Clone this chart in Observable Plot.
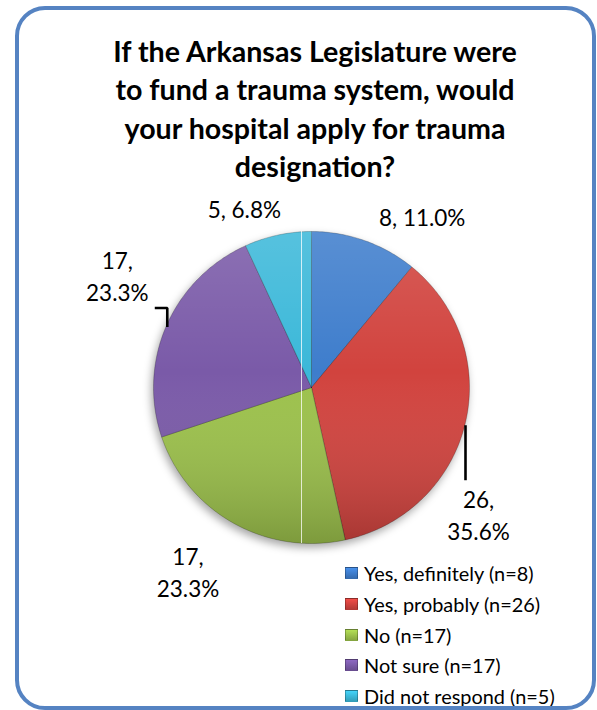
<!DOCTYPE html>
<html>
<head>
<meta charset="utf-8">
<script src="https://cdn.jsdelivr.net/npm/d3@7"></script>
<script src="https://cdn.jsdelivr.net/npm/@observablehq/plot@0.6"></script>
<style>
  body { margin: 0; background: #fff; font-family: Lato, "Open Sans", sans-serif; }
  #frame { position: relative; width: 597px; height: 710px; overflow: hidden; background: #fff; }
  #border { position: absolute; left: 15px; top: 6px; width: 581px; height: 704px; box-sizing: border-box;
            border: 4.5px solid #5583C2; border-radius: 30px; pointer-events: none; }
  #title { position: absolute; left: 15px; width: 600px; top: 32px; text-align: center; white-space: pre-line;
           font-weight: bold; font-size: 28.6px; line-height: 38.3px; color: #000; }
  #chart { position: absolute; left: 0; top: 185px; }
  #legend { position: absolute; left: 345px; top: 558px; font-size: 19.9px; color: #000; }
  .row { height: 30.7px; display: flex; align-items: center; white-space: nowrap; }
  .sw { width: 13px; height: 12px; margin-right: 6px; box-sizing: border-box; border: 1px solid rgba(0,0,0,0.25); flex: none; }
</style>
</head>
<body>
<div id="frame">
  <div id="title"></div>
  <div id="chart"></div>
  <div id="legend"></div>
  <div id="border"></div>
</div>
<script>
// Survey answers, counts and colours
const titleLines = [
  "If the Arkansas Legislature were",
  "to fund a trauma system, would",
  "your hospital apply for trauma",
  "designation?"
];
const categories = ["Yes, definitely", "Yes, probably", "No", "Not sure", "Did not respond"];
const counts = [8, 26, 17, 17, 5];
const colors = ["#3E7DCC", "#D1433E", "#9CC14B", "#7A5AA8", "#3BB8D9"];

// Label placement: pixel nudges from a point just outside each slice, and whether to wrap
const labelLayout = [
  { dx: 44, dy: 12, wrap: false },
  { dx: -25, dy: 81, wrap: true },
  { dx: -26, dy: 14, wrap: true },
  { dx: -13, dy: -35, wrap: true },
  { dx: -25, dy: 11, wrap: false }
];
// Leader lines, in pixels relative to their label
const leaderLayout = [
  { slice: 1, pts: [[-13, -89], [-13, -34]] },
  { slice: 3, pts: [[37.5, 33], [50, 33], [50, 52]] }
];

const RX = 158, RY = 156;           // pie radius in pixels (x, y)
const LABEL_R = 1.25;               // radial distance of label anchors
const SPLIT_X = -10 / RX;           // thin light split line across the pie

document.getElementById("title").textContent = titleLines.join("\n");

const total = d3.sum(counts);
let acc = 0;
const slices = categories.map((c, i) => {
  const a0 = acc / total; acc += counts[i]; const a1 = acc / total;
  return { c, n: counts[i], a0, a1, mid: (a0 + a1) / 2 };
});

// Wedge outlines in unit coordinates, clockwise from 12 o'clock
const wedgePts = slices.flatMap(s => {
  const pts = [{ c: s.c, x: 0, y: 0 }];
  const steps = Math.max(2, Math.ceil((s.a1 - s.a0) * 360));
  for (let k = 0; k <= steps; k++) {
    const t = 2 * Math.PI * (s.a0 + (s.a1 - s.a0) * k / steps);
    pts.push({ c: s.c, x: Math.sin(t), y: Math.cos(t) });
  }
  pts.push({ c: s.c, x: 0, y: 0 });
  return pts;
});
const discPts = d3.range(0, 361).map(d => ({ x: Math.sin(d * Math.PI / 180), y: Math.cos(d * Math.PI / 180) }));

const labels = slices.map((s, i) => {
  const L = labelLayout[i];
  const t = 2 * Math.PI * s.mid;
  const pct = (s.n / total * 100).toFixed(1) + "%";
  return {
    text: L.wrap ? `${s.n},\n${pct}` : `${s.n}, ${pct}`,
    x: LABEL_R * Math.sin(t) + L.dx / RX,
    y: LABEL_R * Math.cos(t) - L.dy / RY
  };
});
const leaders = leaderLayout.flatMap((l, j) =>
  l.pts.map(([px, py]) => ({ id: j, x: labels[l.slice].x + px / RX, y: labels[l.slice].y - py / RY }))
);

const cx = 311, cy = 387 - 185;
const svg = Plot.plot({
  width: 597, height: 525, margin: 0,
  x: { domain: [-1, 1], range: [cx - RX, cx + RX], axis: null },
  y: { domain: [-1, 1], range: [cy + RY, cy - RY], axis: null },
  color: { domain: categories, range: colors },
  marks: [
    Plot.line(wedgePts, { x: "x", y: "y", z: "c", fill: "c", stroke: "rgba(0,0,0,0.22)", strokeWidth: 1, curve: "linear", strokeLinejoin: "round" }),
    Plot.line(discPts, { x: "x", y: "y", fill: "white", stroke: "none", curve: "linear" }),
    Plot.ruleX([SPLIT_X], { y1: -1, y2: 1, stroke: "white", strokeOpacity: 0.75, strokeWidth: 1 }),
    Plot.line(leaders, { x: "x", y: "y", z: "id", stroke: "black", strokeWidth: 2.6, strokeLinecap: "butt", strokeLinejoin: "miter", curve: "linear" }),
    Plot.text(labels, { x: "x", y: "y", text: "text", fontSize: 22.5, fontFamily: "Lato", lineHeight: 1.42, fill: "black" })
  ]
});

// Shading and shadow for the 3-D look
const sel = d3.select(svg);
const defs = sel.insert("defs", ":first-child");
const g = defs.append("linearGradient").attr("id", "shade").attr("x1", 0).attr("y1", 0).attr("x2", 0).attr("y2", 1);
g.append("stop").attr("offset", "0%").attr("stop-color", "#fff").attr("stop-opacity", 0.14);
g.append("stop").attr("offset", "45%").attr("stop-color", "#fff").attr("stop-opacity", 0);
g.append("stop").attr("offset", "100%").attr("stop-color", "#000").attr("stop-opacity", 0.2);
const lineGroups = svg.querySelectorAll('g[aria-label="line"]');
d3.select(lineGroups[0]).style("filter", "drop-shadow(-2px 4px 4px rgba(0,0,0,0.35))");
d3.select(lineGroups[1]).selectAll("path").attr("fill", "url(#shade)");
document.getElementById("chart").appendChild(svg);

// Legend
const legend = d3.select("#legend");
categories.forEach((c, i) => {
  const row = legend.append("div").attr("class", "row");
  row.append("div").attr("class", "sw")
    .style("background", `linear-gradient(to bottom, ${d3.color(colors[i]).brighter(0.4)}, ${d3.color(colors[i]).darker(0.4)})`);
  row.append("span").text(`${c} (n=${counts[i]})`);
});
</script>
</body>
</html>
